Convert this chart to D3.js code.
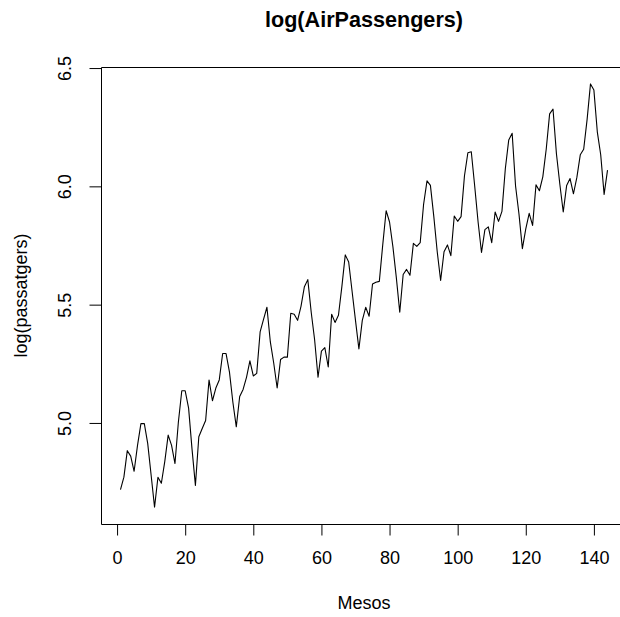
<!DOCTYPE html>
<html>
<head>
<meta charset="utf-8">
<script src="https://cdn.jsdelivr.net/npm/d3@7"></script>
<style>
  html, body { margin: 0; background: #fff; overflow: hidden; }
  svg { display: block; overflow: hidden; }
  svg text { font-family: "Liberation Sans", Arial, Helvetica, sans-serif; fill: #000; }
</style>
</head>
<body>
<div id="chart"></div>
<script>
// monthly air passengers (thousands), 1949-1960
const passengers = [
  112, 118, 132, 129, 121, 135, 148, 148, 136, 119, 104, 118,
  115, 126, 141, 135, 125, 149, 170, 170, 158, 133, 114, 140,
  145, 150, 178, 163, 172, 178, 199, 199, 184, 162, 146, 166,
  171, 180, 193, 181, 183, 218, 230, 242, 209, 191, 172, 194,
  196, 196, 236, 235, 229, 243, 264, 272, 237, 211, 180, 201,
  204, 188, 235, 227, 234, 264, 302, 293, 259, 229, 203, 229,
  242, 233, 267, 269, 270, 315, 364, 347, 312, 274, 237, 278,
  284, 277, 317, 313, 318, 374, 413, 405, 355, 306, 271, 306,
  315, 301, 356, 348, 355, 422, 465, 467, 404, 347, 305, 336,
  340, 318, 362, 348, 363, 435, 491, 505, 404, 359, 310, 337,
  360, 342, 406, 396, 420, 472, 548, 559, 463, 407, 362, 405,
  417, 391, 419, 461, 472, 535, 622, 606, 508, 461, 390, 432
];
const xTicks = [0, 20, 40, 60, 80, 100, 120, 140];
const yTicks = [5.0, 5.5, 6.0, 6.5];

const data = passengers.map((v, i) => ({ mes: i + 1, val: Math.log(v) }));

const width = 620;
const height = 617;
// the plot region runs a little past the right edge of the picture
const margin = { top: 67, right: -7, bottom: 93, left: 101 };

const svg = d3.select("#chart")
  .append("svg")
  .attr("width", width)
  .attr("height", height);

// R style limits: data range plus 4% on each side
const pad = (ext) => { const d = (ext[1] - ext[0]) * 0.04; return [ext[0] - d, ext[1] + d]; };

const x = d3.scaleLinear()
  .domain(pad(d3.extent(data, d => d.mes)))
  .range([margin.left, width - margin.right]);

const y = d3.scaleLinear()
  .domain(pad(d3.extent(data, d => d.val)))
  .range([height - margin.bottom, margin.top]);

// series
const line = d3.line().x(d => x(d.mes)).y(d => y(d.val));
svg.append("path")
  .datum(data)
  .attr("d", line)
  .attr("fill", "none")
  .attr("stroke", "#000")
  .attr("stroke-width", 1.1)
  .attr("stroke-linejoin", "round");

// box (its right side falls outside the picture)
const x0 = margin.left + 0.5, x1 = width - margin.right + 0.5;
const y0 = margin.top + 0.5, y1 = height - margin.bottom + 0.5;
svg.append("path")
  .attr("d", `M${x1},${y0}H${x0}V${y1}H${x1}`)
  .attr("fill", "none")
  .attr("stroke", "#000")
  .attr("stroke-width", 1);

// x axis
const xAxis = svg.append("g")
  .attr("transform", `translate(0,${height - margin.bottom + 0.5})`)
  .call(d3.axisBottom(x).tickValues(xTicks).tickSize(11).tickPadding(16).tickSizeOuter(0));
xAxis.select(".domain").remove();
xAxis.selectAll("text")
  .style("font-size", "18px")
  .attr("dy", "0.71em");

// y axis
const yAxis = svg.append("g")
  .attr("transform", `translate(${margin.left + 0.5},0)`)
  .call(d3.axisLeft(y).tickValues(yTicks).tickSize(12).tickFormat(d3.format(".1f")).tickSizeOuter(0));
yAxis.select(".domain").remove();
yAxis.selectAll(".tick text")
  .style("font-size", "18px")
  .attr("text-anchor", "middle")
  .attr("x", null)
  .attr("dy", null)
  .attr("transform", "translate(-31,0) rotate(-90)");

// labels
svg.append("text")
  .attr("x", (margin.left + width - margin.right) / 2)
  .attr("y", 27)
  .attr("text-anchor", "middle")
  .style("font-size", "21.6px")
  .style("font-weight", "bold")
  .text("log(AirPassengers)");

svg.append("text")
  .attr("x", (margin.left + width - margin.right) / 2)
  .attr("y", 609)
  .attr("text-anchor", "middle")
  .style("font-size", "18px")
  .text("Mesos");

svg.append("text")
  .attr("transform", `translate(27,${(margin.top + height - margin.bottom) / 2}) rotate(-90)`)
  .attr("text-anchor", "middle")
  .style("font-size", "18px")
  .text("log(passatgers)");
</script>
</body>
</html>
